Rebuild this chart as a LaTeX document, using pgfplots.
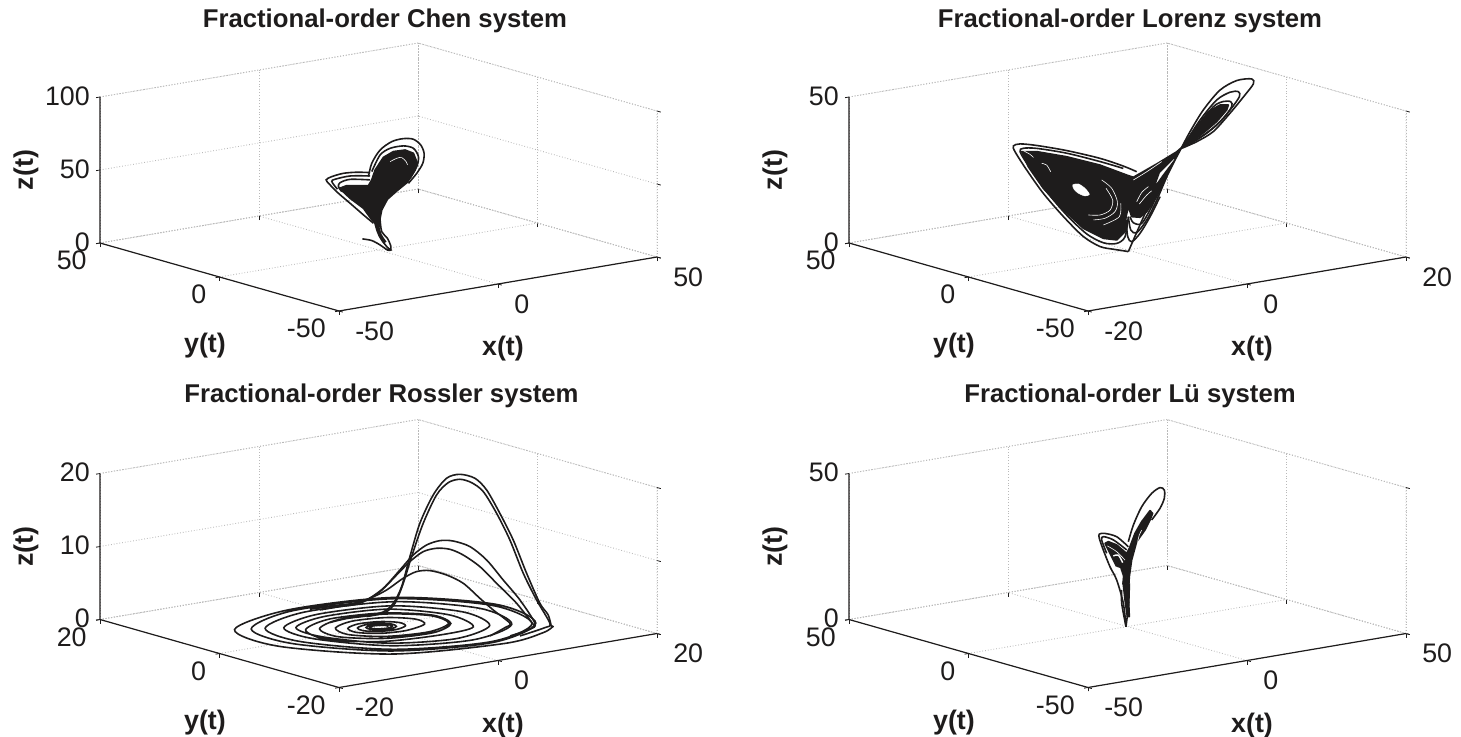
\documentclass[border=0pt]{standalone}
\usepackage{fontspec}
\setmainfont{Liberation Sans}
\usepackage{pgfplots}
\pgfplotsset{compat=1.18}
\definecolor{ink}{HTML}{1E1C1C}
\newcommand{\boxlines}[5]{%
 \addplot3[wallline] coordinates {(#1,#4,#5)(#2,#4,#5)(#2,#3,#5)(#2,#3,0)};
 \addplot3[wallline] coordinates {(#2,#4,#5)(#2,#4,0)};
 \addplot3[wallline] coordinates {(#1,#4,0)(#2,#4,0)(#2,#3,0)};
 \addplot3[axisblack] coordinates {(#1,#4,#5)(#1,#4,0)(#1,#3,0)(#2,#3,0)};
}
\pgfplotsset{
 wallline/.style={color=gray!55,densely dotted,line width=.45pt,forget plot,no markers},
 axisblack/.style={color=ink,line width=.6pt,forget plot,no markers},
 crv/.style={color=ink,line width=.8pt,smooth,no markers},
 wht/.style={color=white,line width=.3pt,smooth,no markers},
 blob/.style={color=ink,fill=ink,line width=.8pt,no markers,line join=round},
 base/.style={
  anchor=origin,clip=false,
  axis line style={draw=none},
  grid=major,grid style={color=gray!55,densely dotted,line width=.45pt},
  tick pos=left,
  tick style={color=ink,line width=.4pt},tick align=outside,major tick length=2pt,
  tick label style={font=\fontsize{13.4}{15}\selectfont,color=ink,inner sep=0pt},
  xticklabel style={anchor=west,xshift=6pt,yshift=-9.5pt},
  yticklabel style={anchor=east,xshift=-4.5pt,yshift=-8.5pt},
  zticklabel style={anchor=east,xshift=-3pt},
  every axis x label/.style={at={(rel axis cs:0.5,0,0)},anchor=center,xshift=2.5pt,yshift=-32.5pt,font=\fontsize{13.4}{15}\selectfont\bfseries,color=ink},
  every axis y label/.style={at={(rel axis cs:0,0.5,0)},anchor=center,xshift=-7.25pt,yshift=-34.5pt,font=\fontsize{13.4}{15}\selectfont\bfseries,color=ink},
  every axis z label/.style={at={(rel axis cs:0,1,0.5)},anchor=center,xshift=-37pt,rotate=90,font=\fontsize{13.4}{15}\selectfont\bfseries,color=ink},
  xlabel={x(t)},ylabel={y(t)},zlabel={z(t)},
  title style={at={(rel axis cs:0.5,0.5,0)},anchor=center,font=\fontsize{12.85}{15}\selectfont\bfseries,color=ink},
 }
}
\begin{document}
\begin{tikzpicture}
\path[use as bounding box] (0pt,0pt) rectangle (730.5pt,368pt);
% Chen
\begin{axis}[base,at={(189.25pt,243pt)},
 x={(1.59pt,0.27pt)},y={(-1.195pt,0.34pt)},z={(0pt,0.73pt)},
 xmin=-50,xmax=50,ymin=-50,ymax=50,zmin=0,zmax=100,
 xtick={-50,0,50},ytick={-50,0,50},ztick={0,50,100},
 xticklabels={-50,0,50},yticklabels={-50,0,50},zticklabels={0,50,100},
 title={Fractional-order Chen system},title style={xshift=3.25pt,yshift=108.5pt}]
\boxlines{-50}{50}{-50}{50}{100}
\addplot3[crv] coordinates {(-3.16,0,51.4)(-2.11,0,60.2)(0.51,0,68.3)(4.17,0,72.7)(7.84,0,73.4)(10.98,0,71.8)(13.29,0,67.0)(14.34,0,60.9)(13.92,0,54.2)(12.03,0,48.1)(9.41,0,42.2)};
\addplot3[crv] coordinates {(-2.11,0,54.5)(0.51,0,64.9)(3.65,0,68.3)(7.84,0,68.4)(10.98,0,65.6)(12.56,0,59.3)(12.03,0,52.7)(9.94,0,45.4)};
\addplot3[crv] coordinates {(-2.64,0,54.0)(-6.83,0,55.8)(-11.02,0,56.6)(-14.69,0,55.7)(-16.47,0,54.1)(-15.22,0,50.2)(-12.6,0,43.5)(-8.93,0,35.3)(-4.73,0,25.8)(-1.59,0,18.9)};
\addplot3[crv] coordinates {(-2.64,0,51.7)(-8.93,0,54.0)(-13.64,0,53.5)(-14.69,0,52.3)(-12.91,0,46.4)};
\addplot3[crv] coordinates {(-2.64,0,49.0)(-8.93,0,51.7)(-12.07,0,50.6)(-12.6,0,48.1)(-11.55,0,44.3)};
\addplot3[blob] coordinates {(-12.28,0,46.8)(-9.98,0,47.8)(-3.16,0,45.3)(-2.11,0,48.8)(-1.07,0,55.2)(1.55,0,62.9)(4.69,0,65.7)(8.37,0,65.4)(10.98,0,62.2)(12.03,0,56.1)(11.51,0,50.6)(9.09,0,43.0)(5.74,0,38.3)(2.81,0,33.7)(1.03,0,27.1)(0.51,0,21.5)(0.51,0,15.8)(-0.33,0,17.3)(-2.11,0,21.4)(-4.73,0,30.3)(-8.93,0,38.7)} -- cycle;
\addplot3[crv] coordinates {(-8.90,-10,28.5)(-7.85,-10,20.1)(-6.49,-10,13.9)(-4.71,-10,8.2)(-3.66,-10,6.0)(-4.71,-10,6.4)(-7.01,-10,10.7)(-9.63,-10,14.7)(-12.57,-10,16.9)};
\addplot3[crv] coordinates {(-7.01,-10,27.8)(-6.49,-10,19.6)(-4.71,-10,14.4)(-3.66,-10,8.8)(-3.66,-10,6.0)};
\addplot3[crv,line width=1.8pt] coordinates {(-8.06,-10,25.9)(-7.01,-10,17.5)(-5.44,-10,11.7)};
\addplot3[wht] coordinates {(3.65,0,59.2)(5.75,0,60.7)(7.32,0,60.6)(8.69,0,57.3)(9.11,0,54.9)};
\end{axis}
% Lorenz
\begin{axis}[base,at={(563.75pt,243pt)},
 x={(3.975pt,0.675pt)},y={(-1.195pt,0.34pt)},z={(0pt,1.46pt)},
 xmin=-20,xmax=20,ymin=-50,ymax=50,zmin=0,zmax=50,
 xtick={-20,0,20},ytick={-50,0,50},ztick={0,50},
 xticklabels={-20,0,20},yticklabels={-50,0,50},zticklabels={0,50},
 title={Fractional-order Lorenz system},title style={xshift=1.25pt,yshift=108.5pt}]
\boxlines{-20}{20}{-50}{50}{50}
\addplot3[crv] coordinates {(-1.85,-10,30.0)(-3.53,-10,32.7)(-6.46,-10,36.7)(-10.65,-10,41.3)(-14.43,-10,44.8)(-16.52,-10,46.3)(-17.36,-10,46.0)(-17.15,-10,43.9)(-15.69,-10,37.0)(-13.59,-10,28.0)(-11.07,-10,18.9)(-8.56,-10,10.9)(-6.46,-10,6.5)(-4.78,-10,4.8)(-3.53,-10,3.7)(-2.90,-10,3.1)};
\addplot3[crv] coordinates {(-2.90,-10,3.1)(-2.27,-10,6.8)(-0.59,-10,16.3)(1.51,-10,26.7)(3.18,-10,33.4)};
\addplot3[crv] coordinates {(-3.53,-10,31.9)(-6.46,-10,35.6)(-10.65,-10,40.4)(-14.43,-10,43.8)(-16.11,-10,44.6)(-16.52,-10,43.6)(-15.27,-10,37.4)(-13.17,-10,28.4)(-10.65,-10,19.2)(-8.14,-10,11.6)(-6.04,-10,7.6)(-4.36,-10,6.6)(-3.32,-10,8.4)(-2.90,-10,15.1)};
\addplot3[blob] coordinates {(-16.31,-10,43.55)(-14.43,-10,42.7)(-10.65,-10,39.2)(-6.46,-10,34.4)(-3.11,-10,29.45)(-2.27,-10,28.3)(0.67,-10,31.5)(3.18,-10,34.5)(3.81,-10,35.7)(2.97,-10,31.8)(1.51,-10,24.5)(0.67,-10,20.3)(-0.59,-10,15.7)(-1.43,-10,14.2)(-2.48,-10,14.9)(-2.90,-10,18.5)(-3.19,-10,15.2)(-3.32,-10,10.1)(-4.36,-10,7.8)(-6.04,-10,9.1)(-8.56,-10,13.7)(-11.07,-10,21.15)(-13.59,-10,29.7)(-15.48,-10,38.0)} -- cycle;
\addplot3[crv] coordinates {(-2.90,-10,15.1)(-2.60,-10,10.4)(-1.85,-10,9.1)(-0.59,-10,12.9)(0.67,-10,19.1)(1.93,-10,26.6)};
\addplot3[crv] coordinates {(-3.19,-10,14.1)(-2.98,-10,8.3)(-2.48,-10,6.3)(-1.43,-10,8.7)(-0.17,-10,13.8)(1.09,-10,20.1)};
\addplot3[crv] coordinates {(-2.69,-10,15.0)(-2.27,-10,12.7)(-1.22,-10,12.0)(0.04,-10,17.2)(1.09,-10,23.0)};
\addplot3[crv] coordinates {(9.82,10,28.26)(10.87,10,33.16)(12.55,10,39.86)(14.64,10,45.66)(16.74,10,47.96)(18.63,10,47.66)(18.84,10,45.86)(17.79,10,42.56)(15.90,10,37.16)(13.80,10,31.86)(11.71,10,29.36)(9.82,10,27.96)};
\addplot3[crv] coordinates {(10.24,10,29.46)(12.13,10,36.56)(14.22,10,42.46)(15.90,10,44.36)(16.95,10,44.06)(17.08,10,42.26)(15.90,10,38.26)(14.22,10,33.86)(11.71,10,29.96)(10.03,10,28.16)};
\addplot3[crv] coordinates {(10.45,10,28.8)(11.71,10,33.96)(13.80,10,40.36)(15.06,10,41.56)(15.99,10,41.06)(16.11,10,39.31)(15.06,10,35.8)(12.97,10,31.66)(10.87,10,29.16)};
\addplot3[blob] coordinates {(9.82,10,28.26)(11.71,10,34.5)(13.18,10,39.0)(14.64,10,40.56)(15.69,10,40.06)(15.48,10,38.46)(14.22,10,35.06)(12.76,10,32.3)(11.71,10,30.5)} -- cycle;
\addplot3[color=white,fill=white,line width=.2pt,smooth cycle,no markers] coordinates {(-9.90,-10,29.2)(-9.19,-10,29.2)(-8.35,-10,27.3)(-7.80,-10,25.0)(-8.35,-10,24.7)(-9.19,-10,26.0)(-9.73,-10,27.6)};
\addplot3[wht] coordinates {(-6.25,-10,29.2)(-5.0,-10,25.8)(-4.28,-10,20.9)(-4.57,-10,17.6)(-5.83,-10,15.9)(-7.30,-10,16.0)};
\addplot3[wht] coordinates {(-5.71,-10,26.1)(-4.87,-10,21.7)(-5.2,-10,18.4)(-6.46,-10,17.3)(-7.93,-10,18.0)};
\addplot3[wht] coordinates {(-3.86,-10,20.1)(-4.03,-10,15.6)(-6.04,-10,13.7)};
\addplot3[wht] coordinates {(-1.85,-10,19.7)(-1.22,-10,22.6)(-0.38,-10,24.2)};
\addplot3[wht] coordinates {(-1.51,-10,18.8)(-0.59,-10,21.4)(0.04,-10,22.6)};
\addplot3[wht] coordinates {(-13.8,-10,38.4)(-13.17,-10,37.5)(-12.67,-10,35.0)};
\addplot3[wht] coordinates {(-16.11,-10,43.8)(-15.27,-10,42.15)(-14.85,-10,40.9)};
\addplot3[wht] coordinates {(-2.27,-10,27.35)(-0.59,-10,29.4)(1.30,-10,32.0)};
\addplot3[color=white,fill=white,line width=.1pt,no markers] coordinates {(2.85,-10,32.1)(1.51,-10,27.9)(0.67,-10,25.1)(1.09,-10,28.1)} -- cycle;
\end{axis}
% Rossler
\begin{axis}[base,at={(189.25pt,54.75pt)},
 x={(3.975pt,0.675pt)},y={(-2.9875pt,0.85pt)},z={(0pt,3.65pt)},
 xmin=-20,xmax=20,ymin=-20,ymax=20,zmin=0,zmax=20,
 xtick={-20,0,20},ytick={-20,0,20},ztick={0,10,20},
 xticklabels={-20,0,20},yticklabels={-20,0,20},zticklabels={0,10,20},
 title={Fractional-order Rossler system},title style={xshift=1.5pt,yshift=109.25pt}]
\boxlines{-20}{20}{-20}{20}{20}
\addplot3[crv] coordinates {
(0.56,-0.89,0.1)(0.68,-0.37,0.1)(0.27,0.12,0.1)(-0.47,0.28,0.1)(-1.11,-0.03,0.1)(-1.25,-0.66,0.1)(-0.76,-1.24,0.1)(0.12,-1.41,0.1)
(0.94,-1.04,0.1)(1.12,-0.31,0.1)(0.55,0.39,0.1)(-0.51,0.62,0.1)(-1.44,0.17,0.1)(-1.64,-0.73,0.1)(-0.93,-1.58,0.1)(0.35,-1.84,0.1)
(1.26,-1.31,0.1)(1.53,-0.22,0.1)(0.68,0.82,0.1)(-0.9,1.16,0.1)(-2.27,0.5,0.1)(-2.58,-0.84,0.1)(-1.53,-2.10,0.1)(0.37,-2.49,0.1)
(2.13,-1.69,0.1)(2.54,-0.08,0.1)(1.28,1.46,0.1)(-1.06,1.96,0.1)(-3.11,0.99,0.1)(-3.58,-1.01,0.1)(-2.0,-2.89,0.1)(0.84,-3.48,0.1)
(4.08,-2.28,0.1)(4.77,0.13,0.1)(2.89,2.54,0.1)(-0.75,3.36,0.1)(-4.02,1.86,0.1)(-4.82,-1.33,0.1)(-2.33,-4.39,0.1)(2.30,-5.38,0.1)
(6.24,-3.45,0.1)(6.91,0.48,0.1)(3.79,3.90,0.1)(-1.36,4.78,0.1)(-5.5,2.56,0.1)(-6.2,-1.52,0.1)(-2.96,-5.07,0.1)(2.39,-5.98,0.1)
(6.33,-3.68,0.1)(7.2,0.58,0.1)(3.84,4.44,0.1)(-1.99,5.55,0.1)(-6.86,3.07,0.1)(-7.82,-1.71,0.1)(-4.04,-6.02,0.1)(2.47,-7.24,0.1)
(7.2,-6.3,0.1)(8.6,-0.4,0.1)(5.35,5.53,0.1)(-1.74,6.81,0.1)(-7.0,4.5,0.1)(-7.5,-0.5,0.1)(-4.08,-6.98,0.1)(2.5,-9.6,0.1)
(8.8,-6.9,0.1)(10.5,-0.2,0.1)(6.57,6.52,0.1)(-1.69,8.04,0.1)(-8.0,5.2,0.1)(-8.7,-0.7,0.1)(-4.5,-8.17,0.1)(3.5,-11.1,0.1)
(10.9,-7.8,0.1)(12.8,0.1,0.1)(7.91,7.88,0.1)(-1.95,9.69,0.1)(-9.6,6.2,0.1)(-10.5,-1.0,0.1)(-5.29,-9.65,0.1)(4.5,-12.9,0.1)
(12.7,-8.8,0.1)(14.6,0.4,0.1)(8.61,9.08,0.1)(-2.57,10.91,0.1)(-10.9,6.8,0.1)(-11.7,-1.2,0.1)(-5.87,-10.15,0.1)(4.4,-13.3,0.1)
(13.1,-8.9,0.1)(15.2,0.5,0.1)(9.07,9.47,0.1)(-2.62,11.52,0.1)(-12.4,7.6,0.1)(-13.5,-1.4,0.1)(-6.7,-11.3,0.1)(5.0,-14.4,0.1)(11.1,-12.82,0.1)(13.74,-10.98,0.1)};
\addplot3[crv] coordinates {(13.74,-10.98,0.1)(12.37,-12.5,0.61)(12.70,-11.5,1.92)(12.41,-10.5,3.33)(12.24,-8.5,7.01)(12.06,-6.5,11.14)(11.88,-4.5,14.36)(11.72,-2.5,17.12)(11.0,-1.5,18.62)(9.86,-0.5,19.14)(8.94,0.5,18.54)(8.01,1.5,16.19)(7.08,2.5,12.24)(6.58,3.5,7.54)(6.29,4.5,3.26)(5.24,4.5,1.16)(4.2,4.8,0.1)(1.8,4.38,0.1)(-0.52,4.66,0.1)(-2.94,4.23,0.1)};
\addplot3[crv] coordinates {(8.34,-12.59,0.1)(12.62,-11.08,0.1)(12.16,-12.5,1.10)(11.99,-10.5,3.87)(11.82,-8.5,7.09)(11.64,-6.5,11.22)(11.47,-4.5,14.44)(11.3,-2.5,16.97)(10.58,-1.5,18.10)(9.86,-0.5,18.46)(9.15,0.5,17.90)(8.43,1.5,16.11)(7.5,2.5,12.16)(6.79,3.5,7.5)(6.5,4.5,3.67)(5.45,4.5,1.12)(4.16,4.47,0.1)(1.61,4.14,0.1)};
\addplot3[crv] coordinates {(7.56,-11.96,0.1)(10.97,-10.75,0.1)(11.78,-10.5,0.71)(11.4,-8.5,3.51)(10.8,-6.5,5.89)(10.21,-4.5,8.28)(9.62,-2.5,9.75)(8.27,-1.5,10.53)(7.35,-0.5,10.52)(6.42,0.5,9.86)(5.49,1.5,8.43)(4.57,2.5,6.31)(3.23,3.5,3.82)(1.88,4.5,2.24)(0.96,5.5,1.63)(-1.6,6,1.62)(-0.83,10.39,0.1)};
\addplot3[crv] coordinates {(11.78,-10.5,0.26)(10.98,-8.5,3.13)(9.97,-6.5,5.59)(9.37,-4.5,7.52)(8.78,-2.5,8.75)(7.86,-1.5,9.47)(6.93,-0.5,9.55)(6.0,0.5,9.03)(5.07,1.5,7.6)(4.15,2.5,5.7)(2.81,3.5,3.44)(1.04,4.5,1.94)(-0.72,5.5,1.58)(-2.49,6.5,1.22)};
\addplot3[crv] coordinates {(5.98,-10.71,0.1)(9.47,-8.58,0.1)(10.14,-8.5,0.55)(9.55,-6.5,2.01)(8.62,-5.5,3.55)(8.03,-3.5,5.25)(7.06,-2,6.22)(6.09,-0.5,6.65)(5.16,0.5,6.45)(4.24,1.5,5.48)(2.89,2.5,3.88)(1.55,3.5,2.76)(0.21,4.5,2.09)(-1.56,5.5,1.87)(-3.75,6.5,1.68)};
\end{axis}
% Lu
\begin{axis}[base,at={(563.75pt,54.75pt)},
 x={(1.59pt,0.27pt)},y={(-1.195pt,0.34pt)},z={(0pt,1.46pt)},
 xmin=-50,xmax=50,ymin=-50,ymax=50,zmin=0,zmax=50,
 xtick={-50,0,50},ytick={-50,0,50},ztick={0,50},
 xticklabels={-50,0,50},yticklabels={-50,0,50},zticklabels={0,50},
 title={Fractional-order Lü system},title style={xshift=1.25pt,yshift=109.25pt}]
\boxlines{-50}{50}{-50}{50}{50}
\addplot3[crv] coordinates {(-7.26,-10,32.7)(-5.68,-10,38.1)(-3.06,-10,43.9)(0.08,-10,47.9)(2.70,-10,49.4)(4.06,-10,48.3)(4.06,-10,45.5)(2.70,-10,42.3)(0.08,-10,38.8)};
\addplot3[crv] coordinates {(-7.26,-10,31.0)(-10.93,-10,35.1)(-14.59,-10,36.9)(-16.38,-10,37.0)(-16.38,-10,35.55)(-15.12,-10,31.3)(-13.02,-10,25.2)(-10.93,-10,20.3)(-8.83,-10,11.9)(-7.99,-10,3.74)};
\addplot3[crv] coordinates {(-7.78,-10,30.0)(-11.97,-10,34.2)(-15.12,-10,35.9)(-15.64,-10,34.85)(-14.07,-10,30.0)};
\addplot3[blob] coordinates {(-6.94,-10,30.4)(-5.16,-10,35.2)(-3.06,-10,38.8)(-0.44,-10,42.1)(0.40,-10,41.0)(-0.44,-10,38.9)(-2.02,-10,35.75)(-4.64,-10,32.2)(-6.21,-10,26.25)(-6.94,-10,20.7)(-7.26,-10,15.0)(-6.94,-10,7.0)(-7.57,-10,7.1)(-8.3,-10,12.9)(-8.83,-10,18.2)(-9.88,-10,22.4)(-11.97,-10,27.3)(-14.59,-10,33.5)(-13.55,-10,33.9)(-10.93,-10,32.3)(-7.78,-10,28.8)} -- cycle;
\addplot3[crv] coordinates {(-7.99,-10,3.74)(-9.35,-10,12.0)(-9.35,-10,16.6)};
\addplot3[crv] coordinates {(-7.99,-10,3.74)(-7.15,-10,11.6)(-6.94,-10,18.4)};
\addplot3[wht] coordinates {(-13.86,-10,32.5)(-10.93,-10,30.0)(-8.3,-10,26.6)};
\addplot3[wht,line width=.7pt] coordinates {(-11.97,-10,28.7)(-10.4,-10,28.7)(-9.04,-10,25.9)};
\addplot3[color=white,fill=white,line width=.1pt,no markers] coordinates {(-11.24,-10,24.9)(-9.88,-10,24.1)(-9.04,-10,21.1)(-9.35,-10,18.3)(-10.4,-10,20.75)} -- cycle;
\addplot3[wht] coordinates {(-3.06,-10,35.9)(-3.8,-10,34.4)(-4.32,-10,32.2)};
\end{axis}
\end{tikzpicture}
\end{document}
